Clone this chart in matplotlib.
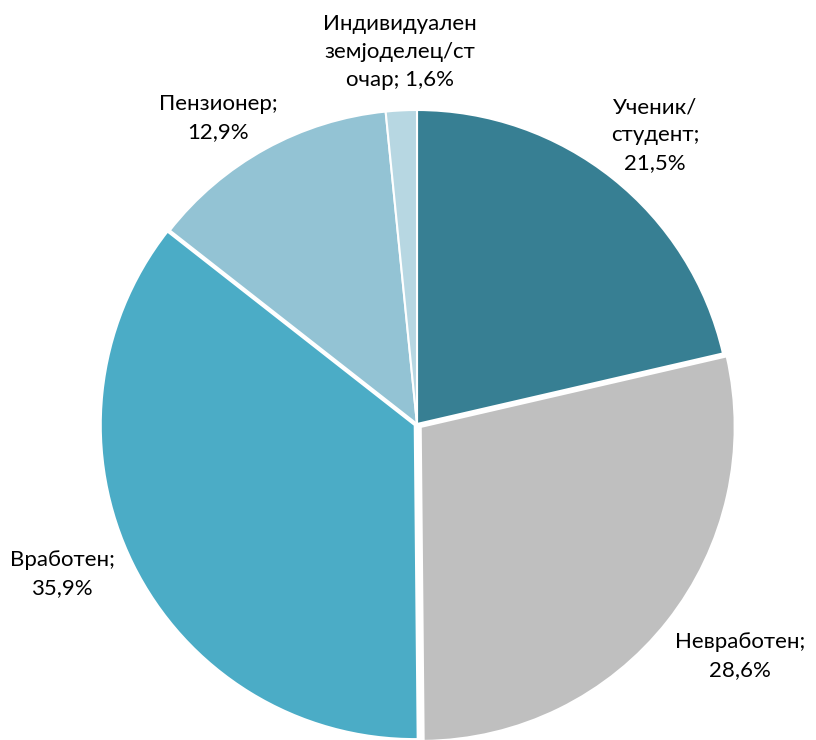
import matplotlib
matplotlib.use("Agg")
import matplotlib.pyplot as plt

categories = ["Ученик/\nстудент", "Невработен", "Вработен", "Пензионер", "Индивидуален\nземјоделец/ст\nочар"]
values = [21.5, 28.6, 35.9, 12.9, 1.6]
value_labels = ["21,5%", "28,6%", "35,9%", "12,9%", "1,6%"]
colors = ["#377F93", "#BFBFBF", "#4BACC6", "#93C3D4", "#B7D7E2"]
explode = [0.0, 0.015, 0.008, 0.0, 0.0]

plt.rcParams['font.family'] = ['Lato', 'DejaVu Sans']

W, H = 816, 740
fig = plt.figure(figsize=(W / 100, H / 100), dpi=100)
cx, cy, r = 417, 316, 314
ax = fig.add_axes([(cx - r) / W, (cy - r) / H, 2 * r / W, 2 * r / H])
ax.pie(values, colors=colors, startangle=90, counterclock=False, explode=explode,
       wedgeprops=dict(edgecolor="white", linewidth=1.5))
ax.set_xlim(-1, 1)
ax.set_ylim(-1, 1)
ax.set_aspect("equal")
ax.axis("off")

label_pos = [(655, 135), (740, 656), (62, 574), (218, 118), (400, 52)]
for cat, vl, (px, py) in zip(categories, value_labels, label_pos):
    txt = cat + "; " + vl if cat.endswith("очар") else cat + ";\n" + vl
    fig.text(px / W, 1 - py / H, txt, ha="center", va="center", fontsize=16,
             linespacing=1.5, color="#000000")

fig.savefig("out.png", dpi=100)
